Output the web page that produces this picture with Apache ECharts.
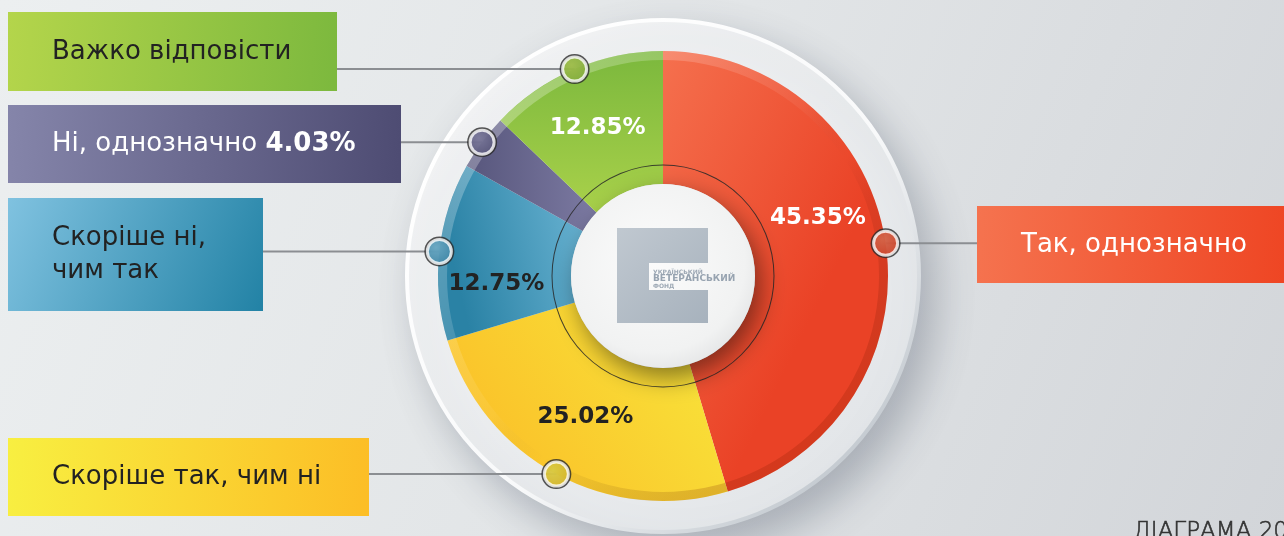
<!DOCTYPE html>
<html><head><meta charset="utf-8">
<script src="https://cdn.jsdelivr.net/npm/echarts@6/dist/echarts.min.js"></script>
<style>html,body{margin:0;padding:0;background:#e3e6e8}#c{width:1284px;height:536px;}</style>
</head><body><div id="c"></div>
<script>
// ---- data ----
const categories = ['Так, однозначно', 'Скоріше так, чим ні', 'Скоріше ні, чим так', 'Ні, однозначно', 'Важко відповісти'];
const values = [45.35, 25.02, 12.75, 4.03, 12.85];
const boxLines = [['Так, однозначно'], ['Скоріше так, чим ні'], ['Скоріше ні,', 'чим так'], ['Ні, однозначно'], ['Важко відповісти']];
const logoLines = ['УКРАЇНСЬКИЙ', 'ВЕТЕРАНСЬКИЙ', 'ФОНД'];
const footerText = 'ДІАГРАМА 20';

// ---- layout / style ----
const CX = 663, CY = 276, R0 = 92, R1 = 225;
const FONT = '"DejaVu Sans", sans-serif';
function lg(x, y, x2, y2, stops) {
  return {type: 'linear', x, y, x2, y2, colorStops: stops.map((c, i) => ({offset: i / (stops.length - 1), color: c}))};
}
function rg(stops) {
  return {type: 'radial', x: 0.38, y: 0.35, r: 0.7, colorStops: stops.map((c, i) => ({offset: i / (stops.length - 1), color: c}))};
}
const sliceFill = [
  lg(0, 0, 1, 0.25, ['#f5704e', '#ea4226']),
  lg(0, 1, 1, 0, ['#fbb925', '#f8e83c']),
  lg(0, 0.2, 1, 0, ['#2a82a5', '#6cb5d4']),
  lg(0, 0, 1, 0, ['#57567c', '#7c7aa2']),
  lg(0, 0, 0, 1, ['#7bb83d', '#a9d14a'])
];
const valueColor = ['#ffffff', '#222222', '#222222', '#ffffff', '#ffffff'];
const valueShow = [true, true, true, false, true];
const valueShift = [[-5, -34], [-1, -1], [-6, 26], [0, 0], [-2, 1]];
const markerFill = [
  rg(['#f6704f', '#ec4a2c']),
  rg(['#fcea48', '#f7d028']),
  rg(['#72bfe0', '#4599bf']),
  rg(['#8886af', '#615f8a']),
  rg(['#b4d94e', '#93c640'])
];
const boxes = [
  {x: 977, y: 206, w: 330, h: 77, side: 'right', text: '#ffffff', fill: lg(0, 0, 1, 0.3, ['#f5734f', '#ee4321'])},
  {x: 8, y: 438, w: 361, h: 78, side: 'left', text: '#222222', fill: lg(0, 0, 1, 0.3, ['#f8ef41', '#fcbe26'])},
  {x: 8, y: 198, w: 255, h: 113, side: 'left', text: '#222222', fill: lg(0, 0, 1, 1, ['#80c2e0', '#2282a5'])},
  {x: 8, y: 105, w: 393, h: 78, side: 'left', text: '#ffffff', fill: lg(0, 0, 1, 0.3, ['#8585aa', '#4e4c73'])},
  {x: 8, y: 12, w: 329, h: 79, side: 'left', text: '#222222', fill: lg(0, 0, 1, 0.3, ['#b4d54b', '#7db93e'])}
];
const PADL = 44, FS = 26;

// marker positions from cumulative values (polar angle axis 0..100)
const total = values.reduce((a, b) => a + b, 0);
let acc = 0;
const mids = values.map(v => { const m = acc + v / 2; acc += v; return m / total * 100; });

const chart = echarts.init(document.getElementById('c'), null, {renderer: 'canvas'});

const boxData = categories.map((name, i) => {
  const b = boxes[i];
  const n = boxLines[i].length;
  const LH = n > 1 ? 33 : 30;
  const pt = Math.round((b.h - n * LH) / 2);
  const cw = b.w - PADL;
  const base = {color: b.text, fontSize: FS, fontFamily: FONT, fontWeight: 'normal', lineHeight: LH};
  let formatter, rich;
  if (i === 3) {
    formatter = '{a|' + boxLines[i][0] + ' }{b|' + values[i].toFixed(2) + '%}';
    rich = {a: base, b: Object.assign({}, base, {fontWeight: 'bold'})};
  } else {
    formatter = boxLines[i].map(l => '{t|' + l + '}').join('\n');
    rich = {t: Object.assign({width: cw}, base)};
  }
  return {
    name, value: values[i],
    label: {
      formatter, rich, width: cw, lineHeight: LH,
      padding: [pt, 0, b.h - n * LH - pt, PADL],
      backgroundColor: b.fill, color: b.text, fontSize: FS, fontFamily: FONT
    }
  };
});

const option = {
  backgroundColor: lg(0, 0, 1, 1, ['#eceff0', '#e2e5e7', '#d2d5d9']),
  animation: false,
  polar: {center: [CX, CY], radius: R1},
  angleAxis: {type: 'value', min: 0, max: 100, startAngle: 90, clockwise: true, show: false},
  radiusAxis: {type: 'value', min: 0, max: 1, show: false},
  graphic: [
    {
      type: 'polygon', z: 100, silent: true,
      shape: {points: [[CX - 46, CY - 48], [CX + 45, CY - 48], [CX + 45, CY - 13], [CX - 14, CY - 13], [CX - 14, CY + 14], [CX + 45, CY + 14], [CX + 45, CY + 47], [CX - 46, CY + 47]]},
      style: {fill: lg(0, 0, 1, 1, ['#c0c8d0', '#a7b2bd'])}
    },
    {type: 'text', z: 101, silent: true, x: CX - 10, y: CY - 4, style: {text: logoLines[0], fill: '#9ea9b5', font: 'bold 6px ' + FONT, verticalAlign: 'middle'}},
    {type: 'text', z: 101, silent: true, x: CX - 10, y: CY + 3, style: {text: logoLines[1], fill: '#97a3b0', font: 'bold 9px ' + FONT, verticalAlign: 'middle'}},
    {type: 'text', z: 101, silent: true, x: CX - 10, y: CY + 10, style: {text: logoLines[2], fill: '#9ea9b5', font: 'bold 6px ' + FONT, verticalAlign: 'middle'}},
    {type: 'text', z: 101, silent: true, x: 1133, y: 532, style: {text: footerText, fill: '#333333', font: '300 23px ' + FONT, verticalAlign: 'middle', stroke: '#333333', lineWidth: 0.6}}
  ],
  series: [
    { // outer plate
      type: 'pie', z: 0, silent: true, center: [CX, CY], radius: [0, 256], label: {show: false}, labelLine: {show: false},
      emphasis: {disabled: true},
      data: [{value: 1, itemStyle: {
        color: {type: 'linear', global: true, x: CX - 180, y: CY - 180, x2: CX + 180, y2: CY + 180, colorStops: [{offset: 0, color: '#f4f5f6'}, {offset: 1, color: '#e3e6e9'}]},
        borderColor: {type: 'linear', global: true, x: CX - 180, y: CY - 180, x2: CX + 180, y2: CY + 180, colorStops: [{offset: 0, color: '#ffffff'}, {offset: 0.6, color: '#f8f9fa'}, {offset: 1, color: '#c6ccd2'}]},
        borderWidth: 4,
        shadowBlur: 40, shadowColor: 'rgba(60,70,90,0.32)', shadowOffsetX: 14, shadowOffsetY: 18
      }}]
    },
    { // donut
      type: 'pie', z: 1, silent: true, center: [CX, CY], radius: [R0, R1], startAngle: 90, clockwise: true,
      avoidLabelOverlap: false, emphasis: {disabled: true},
      label: {show: true, position: 'inside', fontFamily: FONT, fontSize: 23, fontWeight: 'bold',
        formatter: p => p.value.toFixed(2) + '%'},
      labelLine: {show: false},
      labelLayout: p => ({dx: valueShift[p.dataIndex][0], dy: valueShift[p.dataIndex][1]}),
      data: categories.map((name, i) => ({name, value: values[i], itemStyle: {color: sliceFill[i]},
        label: {show: valueShow[i], color: valueColor[i]}}))
    },
    { // rim shading
      type: 'pie', z: 1, silent: true, center: [CX, CY], radius: [216, R1], label: {show: false}, labelLine: {show: false},
      emphasis: {disabled: true},
      data: [{value: 1, itemStyle: {color: {type: 'linear', global: true, x: CX - 160, y: CY - 160, x2: CX + 160, y2: CY + 160,
        colorStops: [{offset: 0, color: 'rgba(255,255,255,0.28)'}, {offset: 0.45, color: 'rgba(255,255,255,0.05)'}, {offset: 0.6, color: 'rgba(0,0,0,0)'}, {offset: 1, color: 'rgba(150,30,0,0.25)'}]}}}]
    },
    { // thin ring
      type: 'pie', z: 1, silent: true, center: [CX, CY], radius: [110.5, 111.5], label: {show: false}, labelLine: {show: false},
      emphasis: {disabled: true},
      data: [{value: 1, itemStyle: {color: 'rgba(40,40,40,0.85)'}}]
    },
    { // inner disc
      type: 'pie', z: 1, silent: true, center: [CX, CY], radius: [0, 92], label: {show: false}, labelLine: {show: false},
      emphasis: {disabled: true},
      data: [{value: 1, itemStyle: {
        color: {type: 'radial', x: 0.45, y: 0.42, r: 0.62, colorStops: [{offset: 0, color: '#fbfbfb'}, {offset: 0.8, color: '#f1f2f2'}, {offset: 1, color: '#e4e5e6'}]},
        shadowBlur: 24, shadowColor: 'rgba(0,0,0,0.45)', shadowOffsetX: 6, shadowOffsetY: 10
      }}]
    },
    { // category boxes + connector lines
      type: 'pie', z: 5, silent: true, center: [CX, CY], radius: [R0, R1], startAngle: 90, clockwise: true,
      avoidLabelOverlap: false, emphasis: {disabled: true},
      itemStyle: {color: 'rgba(0,0,0,0)'},
      label: {show: true, position: 'outside'},
      labelLine: {show: true, length: 8, length2: 8, lineStyle: {color: '#8b8e92', width: 2}},
      labelLayout: p => {
        const b = boxes[p.dataIndex];
        const p0 = (p.labelLinePoints && p.labelLinePoints[0]) || [CX, CY];
        const ex = b.side === 'right' ? b.x : b.x + b.w;
        return {x: b.x, y: b.y, align: 'left', verticalAlign: 'top',
          labelLinePoints: [[p0[0], p0[1]], [ex, p0[1]], [ex, p0[1]]]};
      },
      data: boxData
    },
    { // marker outline
      type: 'scatter', coordinateSystem: 'polar', silent: true, z: 10, symbol: 'circle', symbolSize: 30,
      itemStyle: {color: '#2a2a2a'},
      data: mids.map(m => [1, m])
    },
    { // marker
      type: 'scatter', coordinateSystem: 'polar', silent: true, z: 11, symbol: 'circle', symbolSize: 24,
      data: mids.map((m, i) => ({value: [1, m], itemStyle: {color: markerFill[i], borderColor: '#ffffff', borderWidth: 3}}))
    }
  ]
};
chart.setOption(option);
</script>
</body></html>
